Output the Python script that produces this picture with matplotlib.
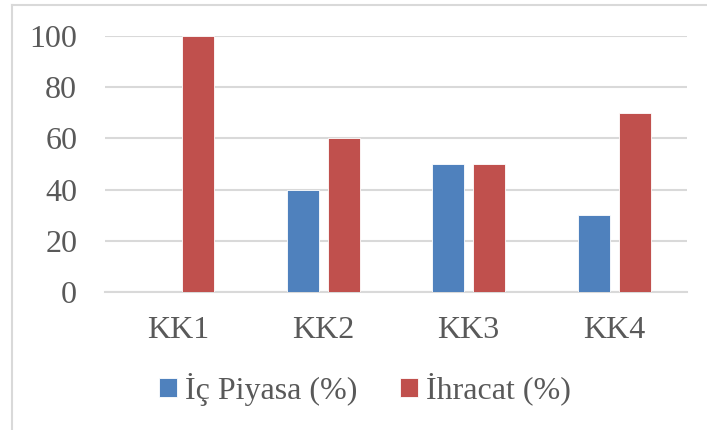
import numpy as np
import matplotlib.pyplot as plt
from matplotlib.lines import Line2D

# Data
categories = ['KK1', 'KK2', 'KK3', 'KK4']
ic_piyasa = [0, 40, 50, 30]
ihracat = [100, 60, 50, 70]
labels = ['İç Piyasa (%)', 'İhracat (%)']

plt.rcParams['font.family'] = ['Liberation Serif', 'DejaVu Serif']
text_col = '#595959'
grid_col = '#D9D9D9'

fig = plt.figure(figsize=(7.07, 4.30), dpi=100)
ax = fig.add_axes([105/707, 1-292/430, 582/707, 256/430])

x = np.arange(len(categories))
w = 0.22
off = 0.142
ax.bar(x - off, ic_piyasa, w, color='#4F81BD', edgecolor='white', linewidth=0.6, label=labels[0], zorder=3)
ax.bar(x + off, ihracat, w, color='#C0504D', edgecolor='white', linewidth=0.6, label=labels[1], zorder=3)

ax.set_xlim(-0.5, 3.5)
ax.set_ylim(0, 100)
ax.set_yticks(range(0, 101, 20))
ax.set_xticks(x)
ax.set_xticklabels(categories)
ax.yaxis.grid(True, color=grid_col, linewidth=1.5, zorder=0)
for s in ['top', 'right', 'left']:
    ax.spines[s].set_visible(False)
ax.spines['bottom'].set_color(grid_col)
ax.spines['bottom'].set_linewidth(1.5)
ax.tick_params(axis='both', length=0, labelsize=23, colors=text_col)
ax.tick_params(axis='y', pad=20)
ax.tick_params(axis='x', pad=17)

leg = fig.legend(loc='center', bbox_to_anchor=(365/707, 1-389/430), ncol=2, frameon=False,
                 fontsize=23, handlelength=0.55, handleheight=0.55, handletextpad=0.25,
                 columnspacing=1.35)
for t in leg.get_texts():
    t.set_color(text_col)

# chart frame (top and left visible)
fig.add_artist(Line2D([12/707, 1], [1-5/430, 1-5/430], color=grid_col, linewidth=1.5))
fig.add_artist(Line2D([12/707, 12/707], [0, 1-5/430], color=grid_col, linewidth=1.5))

fig.savefig('out.png', dpi=100)
